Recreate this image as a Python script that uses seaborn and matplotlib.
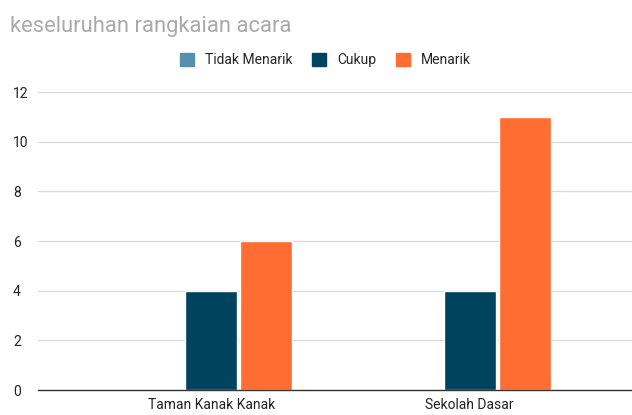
import pandas as pd
import matplotlib.pyplot as plt
import seaborn as sns

# Chart data
categories = ['Taman Kanak Kanak', 'Sekolah Dasar']
series_names = ['Tidak Menarik', 'Cukup', 'Menarik']
tidak_menarik = [0, 0]
cukup = [4, 4]
menarik = [6, 11]
y_ticks = [0, 2, 4, 6, 8, 10, 12]

colors = ['#5591ad', '#00435f', '#ff6d33']

df = pd.DataFrame({
    'Kategori': categories * 3,
    'Seri': [s for s in series_names for _ in categories],
    'Nilai': tidak_menarik + cukup + menarik,
})

sns.set_style('white')
plt.rcParams['font.family'] = ['Roboto', 'DejaVu Sans']

fig = plt.figure(figsize=(6.32, 4.15), dpi=100)
ax = fig.add_axes([0.06, 0.06, 0.945, 0.718])

sns.barplot(data=df, x='Kategori', y='Nilai', hue='Seri', order=categories,
            hue_order=series_names, palette=colors, width=0.64, gap=0.06,
            saturation=1, ax=ax, legend=False)

ax.set_xlim(-0.67, 1.64)
ax.set_ylim(0, 12)
ax.set_yticks(y_ticks)
ax.set_yticklabels([str(t) for t in y_ticks], fontsize=10, color='#222222')
ax.tick_params(axis='x', labelsize=10, colors='#222222', length=0, pad=6)
ax.tick_params(axis='y', length=0, pad=18)
for lbl in ax.get_yticklabels():
    lbl.set_horizontalalignment('left')
ax.grid(axis='y', color='#d9d9d9', linewidth=0.9)
ax.set_axisbelow(True)
for side in ['top', 'right', 'left']:
    ax.spines[side].set_visible(False)
ax.spines['bottom'].set_color('#333333')
ax.spines['bottom'].set_linewidth(1.0)
ax.set_xlabel('')
ax.set_ylabel('')

fig.text(0.016, 0.937, 'keseluruhan rangkaian acara', fontsize=15.8,
         color='#aaaaaa', ha='left', va='center')

handles = [plt.Rectangle((0, 0), 1, 1, color=c) for c in colors]
fig.legend(handles, series_names, loc='center', bbox_to_anchor=(0.515, 0.855),
           ncol=3, frameon=False, fontsize=10, handlelength=1.0, handleheight=1.0,
           handletextpad=0.8, columnspacing=1.4)

fig.savefig('out.png', dpi=100)
